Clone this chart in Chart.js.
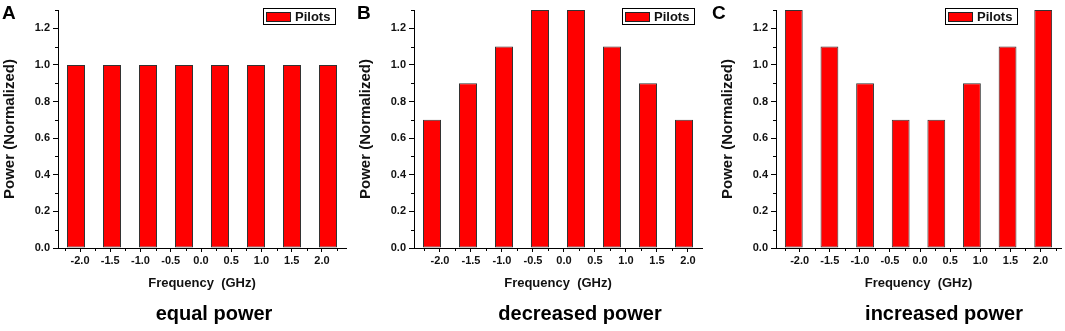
<!DOCTYPE html>
<html>
<head>
<meta charset="utf-8">
<script src="https://cdn.jsdelivr.net/npm/chart.js@4.4.1/dist/chart.umd.min.js"></script>
<style>
  html, body { margin: 0; padding: 0; background: #fff; }
  #wrap { position: relative; width: 1065px; height: 331px; overflow: hidden; font-family: "Liberation Sans", Arial, sans-serif; }
  canvas { position: absolute; top: 0; }
  .letter { position: absolute; font-weight: bold; font-size: 19px; line-height: 19px; color: #000; }
  .caption { position: absolute; font-weight: bold; font-size: 20px; line-height: 20px; color: #000; white-space: nowrap; transform: translateX(-50%); top: 303px; }
</style>
</head>
<body>
<div id="wrap">
  <canvas id="cA" width="350" height="331" style="left:0px"></canvas>
  <canvas id="cB" width="350" height="331" style="left:356px"></canvas>
  <canvas id="cC" width="347" height="331" style="left:718px"></canvas>
  <div class="letter" style="left:2px;top:3px">A</div>
  <div class="letter" style="left:357px;top:3px">B</div>
  <div class="letter" style="left:712px;top:3px">C</div>
  <div class="caption" style="left:214px">equal power</div>
  <div class="caption" style="left:580px">decreased power</div>
  <div class="caption" style="left:944px">increased power</div>
</div>
<script>
// ---- data ----
const pilotSlots = ['P1', 'P2', 'P3', 'P4', 'P5', 'P6', 'P7', 'P8'];
const equalPower     = [1.0, 1.0, 1.0, 1.0, 1.0, 1.0, 1.0, 1.0];
const decreasedPower = [0.7, 0.9, 1.1, 1.3, 1.3, 1.1, 0.9, 0.7];
const increasedPower = [1.3, 1.1, 0.9, 0.7, 0.7, 0.9, 1.1, 1.3];
const freqTicks  = [-2.0, -1.5, -1.0, -0.5, 0.0, 0.5, 1.0, 1.5, 2.0];
const powerTicks = [0.0, 0.2, 0.4, 0.6, 0.8, 1.0, 1.2];
const seriesName = 'Pilots';
const xTitle = 'Frequency  (GHz)';
const yTitle = 'Power (Normalized)';

const FONT = "'Liberation Sans', Arial, sans-serif";
const INK = '#111';

const minorTicks = {
  id: 'minorTicks',
  afterDraw(chart) {
    const ctx = chart.ctx;
    const y = chart.scales.y, xt = chart.scales.xt;
    ctx.save();
    ctx.strokeStyle = '#000';
    ctx.lineWidth = 1;
    ctx.beginPath();
    for (let k = 1; k <= 13; k += 2) {
      const py = Math.round(y.getPixelForValue(k / 10)) + 0.5;
      ctx.moveTo(y.right - 3, py); ctx.lineTo(y.right, py);
    }
    for (let k = -9; k <= 9; k += 2) {
      const v = k / 4;
      if (v < xt.min || v > xt.max) continue;
      const px = Math.round(xt.getPixelForValue(v)) + 0.5;
      ctx.moveTo(px, xt.top); ctx.lineTo(px, xt.top + 3);
    }
    ctx.stroke();
    ctx.restore();
  }
};

const boxLegend = {
  id: 'boxLegend',
  afterDraw(chart, args, opts) {
    const ctx = chart.ctx;
    const ds = chart.data.datasets[0];
    const x = opts.x, y = opts.y, w = 73, h = 17;
    ctx.save();
    ctx.fillStyle = '#fff';
    ctx.fillRect(x, y, w, h);
    ctx.strokeStyle = '#000';
    ctx.lineWidth = 1;
    ctx.strokeRect(x + 0.5, y + 0.5, w - 1, h - 1);
    ctx.fillStyle = ds.backgroundColor;
    ctx.fillRect(x + 3, y + 4, 25, 10);
    ctx.strokeStyle = '#222';
    ctx.strokeRect(x + 3.5, y + 4.5, 24, 9);
    ctx.fillStyle = INK;
    ctx.font = 'bold 13px ' + FONT;
    ctx.textBaseline = 'middle';
    ctx.fillText(ds.label, x + 32, y + h / 2 + 0.5);
    ctx.restore();
  }
};

function makePanel(id, values, xMin, xMax, legendPos) {
  new Chart(document.getElementById(id), {
    type: 'bar',
    data: {
      labels: pilotSlots,
      datasets: [{
        label: seriesName,
        data: values,
        xAxisID: 'x',
        yAxisID: 'y',
        backgroundColor: '#ff0000',
        borderColor: '#333',
        borderWidth: 1,
        borderSkipped: false,
        barPercentage: 0.5,
        categoryPercentage: 1.0
      }]
    },
    options: {
      responsive: false,
      animation: false,
      events: [],
      layout: { padding: { top: 10, right: 4, bottom: 36, left: 0 } },
      plugins: {
        legend: { display: false },
        tooltip: { enabled: false },
        boxLegend: legendPos
      },
      scales: {
        x: {
          type: 'category',
          display: false,
          offset: true,
          grid: { display: false }
        },
        xt: {
          type: 'linear',
          position: 'bottom',
          min: xMin,
          max: xMax,
          offset: false,
          afterBuildTicks: s => { s.ticks = freqTicks.map(v => ({ value: v })); },
          afterFit: s => { s.height = 47; },
          ticks: {
            includeBounds: false,
            autoSkip: false,
            maxRotation: 0,
            padding: 2,
            color: INK,
            font: { family: FONT, size: 11, weight: 'bold' },
            callback: v => Number(v).toFixed(1)
          },
          grid: {
            offset: false,
            drawOnChartArea: false,
            drawTicks: true,
            tickLength: 4,
            tickColor: '#000'
          },
          border: { display: true, color: '#000', width: 1 },
          title: {
            display: true,
            text: xTitle,
            color: INK,
            font: { family: FONT, size: 13, weight: 'bold' },
            padding: { top: 2, bottom: 4 }
          }
        },
        y: {
          type: 'linear',
          position: 'left',
          min: 0,
          max: 1.3,
          afterBuildTicks: s => { s.ticks = powerTicks.map(v => ({ value: v })); },
          afterFit: s => { s.width = 58; },
          ticks: {
            includeBounds: false,
            padding: 3,
            color: INK,
            font: { family: FONT, size: 11, weight: 'bold' },
            callback: v => Number(v).toFixed(1)
          },
          grid: {
            drawOnChartArea: false,
            drawTicks: true,
            tickLength: 5,
            tickColor: '#000'
          },
          border: { display: true, color: '#000', width: 1 },
          title: {
            display: true,
            text: yTitle,
            color: INK,
            font: { family: FONT, size: 15, weight: 'bold' },
            padding: { top: 1, bottom: 2 }
          }
        }
      }
    },
    plugins: [minorTicks, boxLegend]
  });
}

makePanel('cA', equalPower,     -2.364, 2.397, { x: 263, y: 8 });
makePanel('cB', decreasedPower, -2.419, 2.226, { x: 266, y: 8 });
makePanel('cC', increasedPower, -2.393, 2.340, { x: 227, y: 8 });
</script>
</body>
</html>
